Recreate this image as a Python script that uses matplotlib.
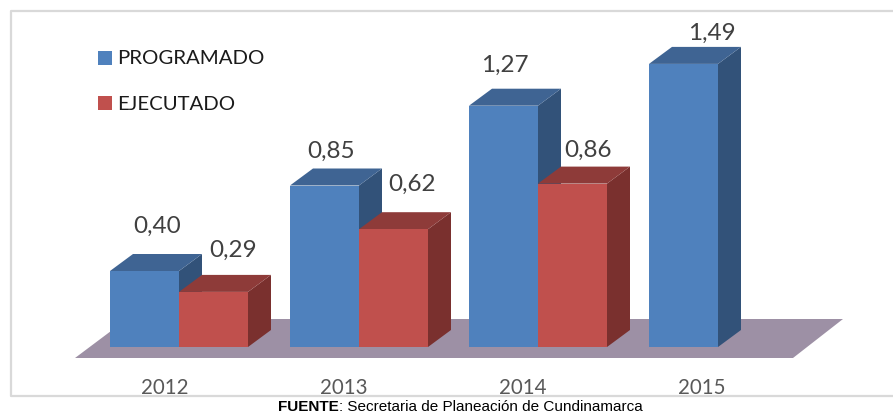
import numpy as np
from matplotlib import pyplot as plt
from matplotlib.patches import Polygon, Rectangle

years = ["2012", "2013", "2014", "2015"]
programado = [0.40, 0.85, 1.27, 1.49]
ejecutado = [0.29, 0.62, 0.86, None]
series_names = ["PROGRAMADO", "EJECUTADO"]

# layout in image pixels
BASE_Y = 347
PX_PER_UNIT = 190
BAR_W = 69
DX, DY = 23, -17
GROUP_X = [110, 290, 469, 649]
YEAR_X = [165, 344, 523, 702]

FRONT = {"b": "#4f81bd", "r": "#c0504d"}
TOP = {"b": "#3f6493", "r": "#8e3b39"}
SIDE = {"b": "#325279", "r": "#7a302e"}

# label offsets from each bar's front top-left corner
BLUE_OFFSETS = [(47, -45), (41, -34), (36, -40), (63, -31)]
RED_OFFSETS = [(54, -42), (53, -45), (50, -33), None]


def draw_bar(ax, x, value, color, zorder):
    top = BASE_Y - value * PX_PER_UNIT
    right = x + BAR_W
    ax.add_patch(Polygon([(right, BASE_Y), (right + DX, BASE_Y + DY),
                          (right + DX, top + DY), (right, top)],
                         fc=SIDE[color], ec="none", zorder=zorder))
    ax.add_patch(Polygon([(x, top), (x + DX, top + DY),
                          (right + DX, top + DY), (right, top)],
                         fc=TOP[color], ec="none", zorder=zorder))
    ax.add_patch(Rectangle((x, top), BAR_W, BASE_Y - top,
                           fc=FRONT[color], ec="none", zorder=zorder))
    return top


def fmt(value):
    return f"{value:.2f}".replace(".", ",")


fig = plt.figure(figsize=(8.93, 4.16), dpi=100)
ax = fig.add_axes([0, 0, 1, 1])
ax.set_xlim(0, 893)
ax.set_ylim(416, 0)
ax.axis("off")

# chart frame
ax.plot([893, 10.5, 10.5, 893], [10.5, 10.5, 396, 396], color="#d9d9d9", lw=1.6, zorder=1)

# floor
ax.add_patch(Polygon([(75, 358), (793, 358), (843, 319), (127, 319)],
                     fc="#9d90a5", ec="none", zorder=2))

for i, x in enumerate(GROUP_X):
    top = draw_bar(ax, x, programado[i], "b", 3 + i * 2)
    off = BLUE_OFFSETS[i]
    ax.text(x + off[0], top + off[1], fmt(programado[i]), fontsize=17.5, family="Lato",
            color="#404040", ha="center", va="center", zorder=20)
    if ejecutado[i] is not None:
        top = draw_bar(ax, x + BAR_W, ejecutado[i], "r", 4 + i * 2)
        off = RED_OFFSETS[i]
        ax.text(x + off[0] + BAR_W, top + off[1], fmt(ejecutado[i]), fontsize=17.5, family="Lato",
                color="#404040", ha="center", va="center", zorder=20)
    ax.text(YEAR_X[i], 388, years[i], fontsize=14.8, family="Lato", color="#595959",
            ha="center", va="center", zorder=20)

# legend
for y, name, color in zip([59, 104], series_names, ["b", "r"]):
    ax.add_patch(Rectangle((98, y - 8), 14, 14, fc=FRONT[color], ec="none", zorder=20))
    ax.text(117, y, name, fontsize=14.7, family="Lato", color="#1a1a1a",
            ha="left", va="center", zorder=20)

foot = ax.text(278, 407, "FUENTE", fontsize=11, family="Liberation Sans", weight="bold",
               color="black", ha="left", va="center")
fig.canvas.draw()
foot_end = foot.get_window_extent().x1
ax.text(foot_end, 407, ": Secretaria de Planeación de Cundinamarca", fontsize=11,
        family="Liberation Sans", color="black", ha="left", va="center")

fig.savefig("out.png", dpi=100)
